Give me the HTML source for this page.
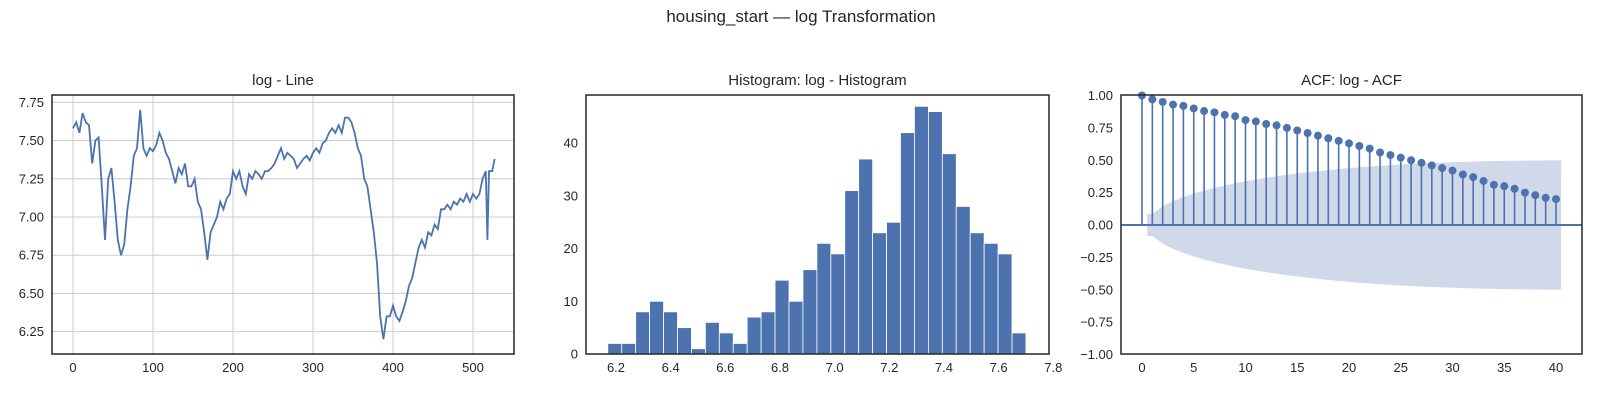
<!DOCTYPE html>
<html><head><meta charset="utf-8">
<style>
body{margin:0;background:#fff;font-family:"Liberation Sans",sans-serif;}
svg text{font-family:"Liberation Sans",sans-serif;fill:#262626;}
</style></head>
<body>
<svg id="fig" width="1600" height="400" xmlns="http://www.w3.org/2000/svg">
<text x="801" y="22" font-size="17" text-anchor="middle">housing_start — log Transformation</text>
<g id="ax1"></g>
<g id="ax2"></g>
<g id="ax3"></g>
</svg>
<script>
const lineIdx=[0,4,8,12,16,20,24,28,32,36,40,44,48,52,56,60,64,68,72,76,80,84,88,92,96,100,104,108,112,116,120,124,128,132,136,140,144,148,152,156,160,164,168,172,176,180,184,188,192,196,200,204,208,212,216,220,224,228,232,236,240,244,248,252,256,260,264,268,272,276,280,284,288,292,296,300,304,308,312,316,320,324,328,332,336,340,344,348,352,356,360,364,368,372,376,380,384,388,392,396,400,404,408,412,416,420,424,428,432,436,440,444,448,452,456,460,464,468,472,476,480,484,488,492,496,500,504,508,512,516,518,520,524,527];
const lineVals=[7.58,7.62,7.55,7.68,7.62,7.60,7.35,7.50,7.52,7.20,6.85,7.25,7.32,7.10,6.85,6.75,6.82,7.05,7.20,7.40,7.45,7.70,7.45,7.40,7.45,7.43,7.47,7.55,7.50,7.42,7.38,7.30,7.22,7.32,7.28,7.35,7.20,7.20,7.25,7.10,7.05,6.90,6.72,6.90,6.95,7.00,7.10,7.05,7.12,7.15,7.30,7.25,7.30,7.20,7.15,7.28,7.25,7.30,7.28,7.25,7.30,7.30,7.32,7.35,7.40,7.45,7.38,7.42,7.40,7.38,7.32,7.35,7.38,7.40,7.37,7.42,7.45,7.42,7.48,7.50,7.55,7.58,7.55,7.60,7.55,7.65,7.65,7.62,7.55,7.45,7.40,7.25,7.20,7.05,6.90,6.70,6.35,6.20,6.35,6.35,6.42,6.35,6.32,6.38,6.45,6.55,6.60,6.70,6.80,6.85,6.80,6.90,6.88,6.95,6.92,7.05,7.05,7.08,7.05,7.10,7.08,7.12,7.10,7.15,7.10,7.15,7.12,7.15,7.25,7.30,6.85,7.30,7.30,7.38];
const lineXTicks=[0,100,200,300,400,500];
const lineYTicks=[6.25,6.50,6.75,7.00,7.25,7.50,7.75];
const histCounts=[2,2,8,10,8,5,1,6,4,2,7,8,14,10,16,21,19,31,37,23,25,42,47,46,38,28,23,21,19,4];
const histStart=6.17, histEnd=7.70;
const histXTicks=[6.2,6.4,6.6,6.8,7.0,7.2,7.4,7.6,7.8];
const histYTicks=[0,10,20,30,40];
const acfVals=[1,0.97,0.95,0.93,0.92,0.90,0.88,0.87,0.85,0.84,0.81,0.80,0.78,0.77,0.75,0.73,0.71,0.69,0.67,0.65,0.63,0.61,0.59,0.56,0.54,0.52,0.50,0.48,0.46,0.44,0.42,0.39,0.37,0.34,0.31,0.30,0.28,0.25,0.23,0.21,0.20];
const acfXTicks=[0,5,10,15,20,25,30,35,40];
const acfYTicks=[-1,-0.75,-0.5,-0.25,0,0.25,0.5,0.75,1];

const NS='http://www.w3.org/2000/svg';
const C='#4c72b0';
function mk(p,t,a){const e=document.createElementNS(NS,t);for(const k in a)e.setAttribute(k,a[k]);p.appendChild(e);return e;}
const T=95,B=354;
function frame(g,x0,x1,title){
  const r=mk(g,'rect',{x:x0,y:T,width:x1-x0,height:B-T,fill:'none',stroke:'#262626','stroke-width':1.5});
  
  
  const t=mk(g,'text',{x:(x0+x1)/2,y:85,'font-size':15,'text-anchor':'middle'});t.textContent=title;
  
  
}
function xt(g,x,label){const t=mk(g,'text',{x:x,y:B+18,'font-size':13,'text-anchor':'middle'});t.textContent=label;
  
  }
function yt(g,x0,y,label){const t=mk(g,'text',{x:x0-8,y:y+4.5,'font-size':13,'text-anchor':'end'});t.textContent=label;
  
  }

// Line chart
(function(){
  const g=document.getElementById('ax1');const x0=52,x1=514;
  const sx=v=>73+v*0.8, sy=v=>102.3-(v-7.75)*152.9;
  lineXTicks.forEach(v=>{const l=mk(g,'line',{x1:sx(v),x2:sx(v),y1:T,y2:B,stroke:'#cccccc'});
    xt(g,sx(v),String(v));});
  lineYTicks.forEach(v=>{const l=mk(g,'line',{x1:x0,x2:x1,y1:sy(v),y2:sy(v),stroke:'#cccccc'});
    yt(g,x0,sy(v),v.toFixed(2));});
  const d=lineIdx.map((v,i)=>(i?'L':'M')+sx(v).toFixed(1)+','+sy(lineVals[i]).toFixed(1)).join('');
  const p=mk(g,'path',{d:d,fill:'none',stroke:C,'stroke-width':1.8});
  
  
  frame(g,x0,x1,'log - Line');
})();

// Histogram
(function(){
  const g=document.getElementById('ax2');const x0=586,x1=1049;
  const sx=v=>616+(v-6.2)*273.3, sy=v=>354-v*5.27;
  const w=(histEnd-histStart)/histCounts.length;
  histCounts.forEach((c,i)=>{const a=sx(histStart+i*w),b=sx(histStart+(i+1)*w);
    const r=mk(g,'rect',{x:a,y:sy(c),width:b-a,height:sy(0)-sy(c),fill:C,stroke:'#fff','stroke-width':0.8});
    
    });
  histXTicks.forEach(v=>xt(g,sx(v),v.toFixed(1)));
  histYTicks.forEach(v=>yt(g,x0,sy(v),String(v)));
  frame(g,x0,x1,'Histogram: log - Histogram');
})();

// ACF
(function(){
  const g=document.getElementById('ax3');const x0=1121,x1=1582;
  const sx=v=>1142+v*10.35, sy=v=>225-v*129.5;
  const n=acfVals.length;let up='',dn='';
  for(let k=0;k<n;k++){const xx=(k===0?0.5:k)+(k===n-1?0.5:0);const c=1.96*Math.sqrt((1+2*acfVals.slice(1,Math.max(1,k)).reduce((s,v)=>s+v*v,0))/528);
    up+=(k?'L':'M')+sx(xx).toFixed(1)+','+sy(c).toFixed(1);dn=' L'+sx(xx).toFixed(1)+','+sy(-c).toFixed(1)+dn;}
  const band=mk(g,'path',{d:up+dn+'Z',fill:'#d0d9ea'});
  
  
  const z=mk(g,'line',{x1:x0,x2:x1,y1:sy(0),y2:sy(0),stroke:C,'stroke-width':2});
  
  acfVals.forEach((v,k)=>{const l=mk(g,'line',{x1:sx(k),x2:sx(k),y1:sy(0),y2:sy(v),stroke:C,'stroke-width':1.6});
    
    const c=mk(g,'circle',{cx:sx(k),cy:sy(v),r:4,fill:C});
    });
  acfXTicks.forEach(v=>xt(g,sx(v),String(v)));
  acfYTicks.forEach(v=>yt(g,x0,sy(v),(v<0?'−':'')+Math.abs(v).toFixed(2)));
  frame(g,x0,x1,'ACF: log - ACF');
})();
</script>
</body></html>
